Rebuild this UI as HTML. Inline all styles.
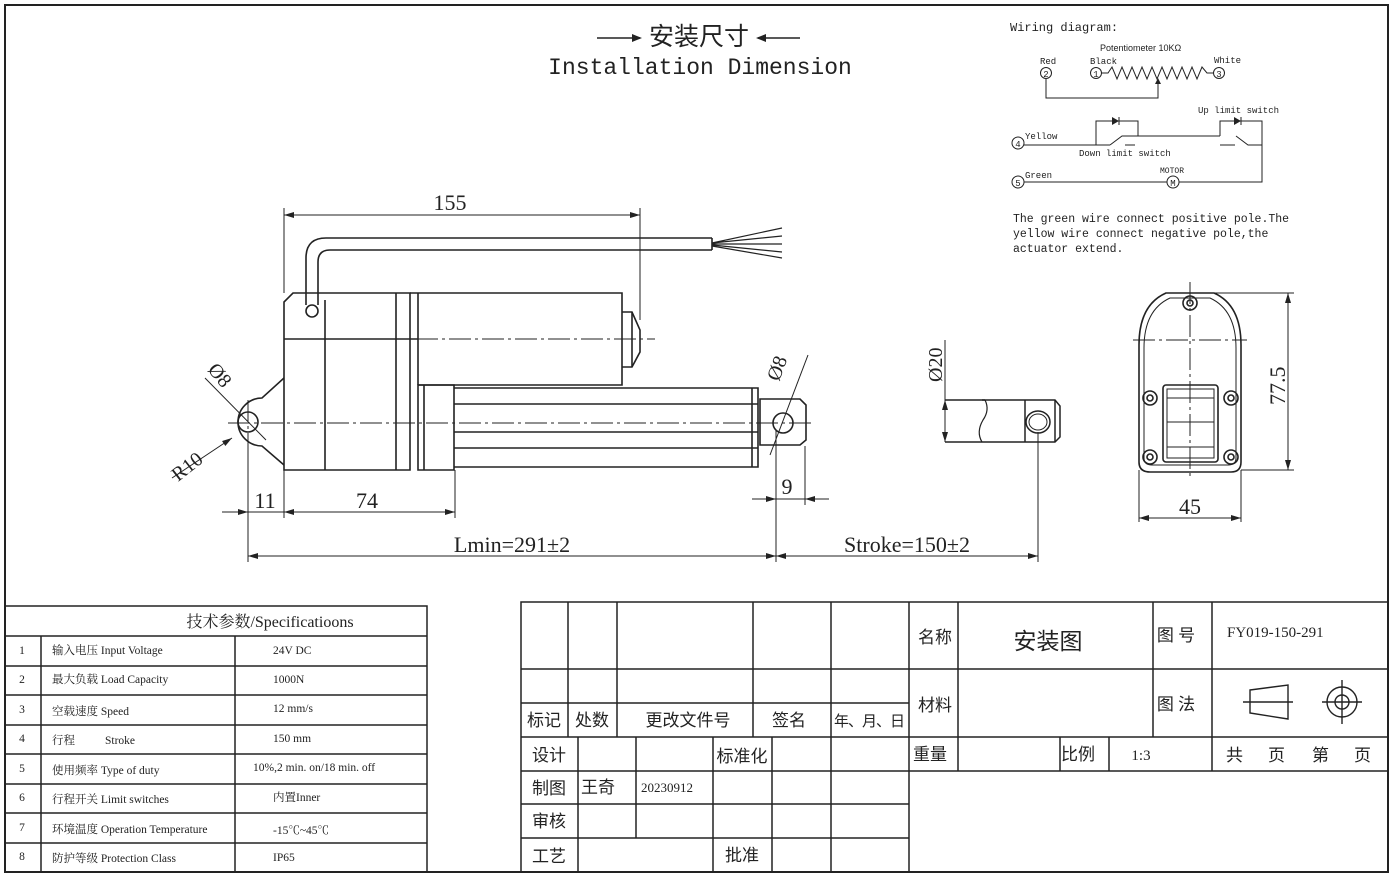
<!DOCTYPE html>
<html><head><meta charset="utf-8"><style>
html,body{margin:0;padding:0;background:#fff;}
svg{display:block}
.s{font-family:"Liberation Serif","Noto Serif CJK SC",serif;fill:#222}
.m{font-family:"Liberation Mono","Noto Sans CJK SC",monospace;fill:#222}
.c{font-family:"Liberation Serif","Noto Sans CJK SC",sans-serif;fill:#222}
</style></head><body>
<svg width="1392" height="877" viewBox="0 0 1392 877" xmlns="http://www.w3.org/2000/svg">
<defs>
<marker id="a" viewBox="0 0 10 6" refX="10" refY="3" markerWidth="12" markerHeight="6" orient="auto-start-reverse" markerUnits="userSpaceOnUse"><path d="M0,0L10,3L0,6z" fill="#222"/></marker>
</defs>
<rect x="5" y="5" width="1383" height="867" fill="none" stroke="#222" stroke-width="2"/>

<g stroke="#222" stroke-width="1.5"><line x1="597" y1="38" x2="640" y2="38"/><line x1="758" y1="38" x2="800" y2="38"/></g>
<path d="M632,34L642,38L632,42z M766,34L756,38L766,42z" fill="#222"/>
<text x="699" y="45" text-anchor="middle" class="c" font-size="25">安装尺寸</text>
<text x="700" y="74" text-anchor="middle" class="m" font-size="23">Installation Dimension</text>

<g fill="none" stroke="#222" stroke-width="1.6">
<path d="M306,305 L306,258 Q306,238 326,238 L712,238"/>
<path d="M318,305 L318,262 Q318,250 330,250 L712,250"/>
<line x1="712" y1="238" x2="712" y2="250"/>
<path d="M712,243 L782,228 M712,243 L782,236 M712,244 L782,244 M712,245 L782,252 M712,246 L782,258" stroke-width="1.2"/>
<circle cx="312" cy="311" r="6"/>
<path d="M293,293 L410,293 L410,470 L284,470 L284,302 Z"/>
<line x1="284" y1="339" x2="418" y2="339"/>
<line x1="325" y1="300" x2="325" y2="470"/>
<line x1="396" y1="293" x2="396" y2="470"/>
<line x1="418" y1="293" x2="418" y2="385"/>
<path d="M410,293 L622,293 L622,385 L418,385"/>
<path d="M622,312 L632,312 L640,330 L640,352 L632,367 L622,367"/>
<line x1="632" y1="312" x2="632" y2="367"/>
<path d="M284,378 L262,398 A22,22 0 1 0 262,446 L284,465"/>
<circle cx="248" cy="422" r="10"/>
<path d="M418,385 L454,385 L454,470 L418,470 Z"/>
<line x1="424" y1="385" x2="424" y2="470"/>
<path d="M454,388 L758,388 L758,467 L454,467"/>
<line x1="454" y1="404" x2="758" y2="404"/>
<line x1="454" y1="432" x2="758" y2="432"/>
<line x1="454" y1="448" x2="758" y2="448"/>
<line x1="752" y1="388" x2="752" y2="467"/>
<path d="M760,399 L800,399 L806,405 L806,440 L800,445 L760,445 Z"/>
<circle cx="783" cy="423" r="10"/>
</g>
<g stroke="#222" stroke-width="1" stroke-dasharray="22,4,3,4" fill="none">
<line x1="284" y1="339" x2="655" y2="339"/>
<line x1="228" y1="423" x2="812" y2="423"/>
<line x1="248" y1="400" x2="248" y2="446"/>
</g>
<g stroke="#222" stroke-width="1" fill="none">
<line x1="284" y1="208" x2="284" y2="293"/><line x1="640" y1="208" x2="640" y2="320"/>
<line x1="284" y1="215" x2="640" y2="215" marker-start="url(#a)" marker-end="url(#a)"/>
<line x1="248" y1="440" x2="248" y2="562"/><line x1="284" y1="470" x2="284" y2="518"/><line x1="455" y1="470" x2="455" y2="518"/>
<line x1="222" y1="512" x2="248" y2="512" marker-end="url(#a)"/>
<line x1="284" y1="512" x2="455" y2="512" marker-start="url(#a)" marker-end="url(#a)"/>
<line x1="248" y1="512" x2="284" y2="512"/>
<line x1="776" y1="430" x2="776" y2="562"/><line x1="805" y1="446" x2="805" y2="505"/>
<line x1="752" y1="499" x2="776" y2="499" marker-end="url(#a)"/>
<line x1="829" y1="499" x2="805" y2="499" marker-end="url(#a)"/>
<line x1="776" y1="499" x2="805" y2="499"/>
<line x1="248" y1="556" x2="776" y2="556" marker-start="url(#a)" marker-end="url(#a)"/>
<line x1="776" y1="556" x2="1038" y2="556" marker-start="url(#a)" marker-end="url(#a)"/>
<line x1="1038" y1="432" x2="1038" y2="562"/>
<line x1="205" y1="378" x2="266" y2="440"/>
<line x1="172" y1="478" x2="232" y2="438" marker-end="url(#a)"/>
<line x1="808" y1="355" x2="770" y2="455"/>
</g>
<g class="s" font-size="22">
<text x="450" y="210" text-anchor="middle">155</text>
<text x="265" y="508" text-anchor="middle">11</text>
<text x="367" y="508" text-anchor="middle">74</text>
<text x="787" y="494" text-anchor="middle">9</text>
<text x="512" y="552" text-anchor="middle">Lmin=291±2</text>
<text x="907" y="552" text-anchor="middle">Stroke=150±2</text>
<text transform="translate(207,370) rotate(50)" font-size="20">Ø8</text>
<text transform="translate(178,482) rotate(-38)" font-size="20">R10</text>
<text transform="translate(779,382) rotate(-70)" font-size="20">Ø8</text>
<text transform="translate(942,382) rotate(-90)" font-size="20">Ø20</text>
<text transform="translate(1285,405) rotate(-90)" font-size="22">77.5</text>
<text x="1190" y="514" text-anchor="middle">45</text>
</g>

<g fill="none" stroke="#222" stroke-width="1.5">
<path d="M982,400 L1055,400 L1060,406 L1060,437 L1055,442 L982,442"/>
<line x1="945" y1="400" x2="985" y2="400"/><line x1="945" y1="442" x2="982" y2="442"/>
<path d="M985,400 Q990,410 983,420 Q976,432 982,442" stroke-width="1.2"/>
<line x1="1025" y1="400" x2="1025" y2="442"/><line x1="1055" y1="400" x2="1055" y2="442"/>
<ellipse cx="1038" cy="422" rx="12" ry="11"/><ellipse cx="1038" cy="422" rx="9" ry="8" stroke-width="1"/>
</g>
<g stroke="#222" stroke-width="1" fill="none">
<line x1="945" y1="340" x2="945" y2="442"/>
<line x1="945" y1="400" x2="945" y2="442" marker-start="url(#a)" marker-end="url(#a)"/>
</g>

<g fill="none" stroke="#222" stroke-width="1.6">
<path d="M1166,293 L1214,293 Q1241,305 1241,345 L1241,462 Q1241,472 1231,472 L1150,472 Q1139,472 1139,462 L1139,345 Q1139,305 1166,293 Z"/>
<path d="M1170,298 L1210,298 Q1236,310 1236,348 L1236,458 Q1236,465 1228,465 L1152,465 Q1144,465 1144,458 L1144,348 Q1144,310 1170,298 Z" stroke-width="1"/>
<rect x="1163" y="385" width="55" height="77" rx="3"/>
<rect x="1167" y="389" width="47" height="69" stroke-width="1"/>
<line x1="1167" y1="398" x2="1214" y2="398" stroke-width="1"/><line x1="1167" y1="422" x2="1214" y2="422" stroke-width="1"/><line x1="1167" y1="447" x2="1214" y2="447" stroke-width="1"/>
<circle cx="1190" cy="303" r="7"/><circle cx="1190" cy="303" r="3"/>
<circle cx="1150" cy="398" r="7"/><circle cx="1150" cy="398" r="3"/>
<circle cx="1231" cy="398" r="7"/><circle cx="1231" cy="398" r="3"/>
<circle cx="1150" cy="457" r="7"/><circle cx="1150" cy="457" r="3"/>
<circle cx="1231" cy="457" r="7"/><circle cx="1231" cy="457" r="3"/>
</g>
<g stroke="#222" stroke-width="1" fill="none">
<line x1="1190" y1="282" x2="1190" y2="478" stroke-dasharray="22,4,3,4"/>
<line x1="1133" y1="340" x2="1247" y2="340" stroke-dasharray="22,4,3,4"/>
<line x1="1214" y1="293" x2="1294" y2="293"/><line x1="1241" y1="470" x2="1294" y2="470"/>
<line x1="1288" y1="293" x2="1288" y2="470" marker-start="url(#a)" marker-end="url(#a)"/>
<line x1="1139" y1="470" x2="1139" y2="522"/><line x1="1241" y1="470" x2="1241" y2="522"/>
<line x1="1139" y1="518" x2="1241" y2="518" marker-start="url(#a)" marker-end="url(#a)"/>
</g>

<g class="m">
<text x="1010" y="31" font-size="12">Wiring diagram:</text>
<text x="1100" y="51" font-size="9" font-family="Liberation Sans,sans-serif">Potentiometer 10KΩ</text>
<text x="1040" y="64" font-size="9">Red</text>
<text x="1090" y="64" font-size="9">Black</text>
<text x="1214" y="63" font-size="9">White</text>
<text x="1198" y="113" font-size="9">Up limit switch</text>
<text x="1025" y="139" font-size="9">Yellow</text>
<text x="1079" y="156" font-size="9">Down limit switch</text>
<text x="1025" y="178" font-size="9">Green</text>
<text x="1160" y="173" font-size="8">MOTOR</text>
<text x="1013" y="222" font-size="11.5">The green wire connect positive pole.The</text>
<text x="1013" y="237" font-size="11.5">yellow wire connect negative pole,the</text>
<text x="1013" y="252" font-size="11.5">actuator extend.</text>
<text x="1046" y="77" font-size="9" text-anchor="middle">2</text>
<text x="1096" y="77" font-size="9" text-anchor="middle">1</text>
<text x="1219" y="77" font-size="9" text-anchor="middle">3</text>
<text x="1018" y="147" font-size="9" text-anchor="middle">4</text>
<text x="1018" y="186" font-size="9" text-anchor="middle">5</text>
<text x="1173" y="186" font-size="9" text-anchor="middle">M</text>
</g>
<g fill="none" stroke="#222" stroke-width="1">
<circle cx="1046" cy="73" r="5.5"/><circle cx="1096" cy="73" r="5.5"/><circle cx="1219" cy="73" r="5.5"/>
<circle cx="1018" cy="143" r="6"/><circle cx="1018" cy="182" r="6"/><circle cx="1173" cy="182" r="6"/>
<path d="M1101,73 L1108,73 L1112,67 L1117,79 L1122,67 L1127,79 L1132,67 L1137,79 L1142,67 L1147,79 L1152,67 L1157,79 L1162,67 L1167,79 L1172,67 L1177,79 L1182,67 L1187,79 L1192,67 L1197,79 L1202,67 L1207,73 L1213,73"/>
<path d="M1046,79 L1046,98 L1158,98 L1158,82"/>
<path d="M1024,145 L1110,145 M1125,145 L1135,145"/>
<path d="M1096,145 L1096,121 L1138,121 L1138,136"/>
<path d="M1110,145 L1122,136 L1138,136 L1220,136"/>
<path d="M1220,136 L1220,121 L1262,121 L1262,145"/>
<path d="M1220,145 L1235,145 M1236,136 L1248,145 L1262,145 L1262,182 L1179,182"/>
<path d="M1024,182 L1167,182"/>
</g>
<path d="M1155,84 L1158,78 L1161,84z M1112,117 L1112,125 L1119,121z M1234,117 L1234,125 L1241,121z" fill="#222"/>
<g stroke="#222" stroke-width="1"><line x1="1119" y1="117" x2="1119" y2="125"/><line x1="1241" y1="117" x2="1241" y2="125"/></g>

<g fill="none" stroke="#222" stroke-width="1.5">
<rect x="5" y="606" width="422" height="266"/>
<line x1="5" y1="636" x2="427" y2="636"/><line x1="5" y1="666" x2="427" y2="666"/><line x1="5" y1="695" x2="427" y2="695"/><line x1="5" y1="725" x2="427" y2="725"/><line x1="5" y1="754" x2="427" y2="754"/><line x1="5" y1="784" x2="427" y2="784"/><line x1="5" y1="813" x2="427" y2="813"/><line x1="5" y1="843" x2="427" y2="843"/>
<line x1="41" y1="636" x2="41" y2="872"/><line x1="235" y1="636" x2="235" y2="872"/>
</g>
<g class="s" font-size="11.5">
<text x="270" y="627" text-anchor="middle" font-size="16">技术参数/Specificatioons</text>
<text x="22" y="654" text-anchor="middle">1</text><text x="22" y="683" text-anchor="middle">2</text><text x="22" y="713" text-anchor="middle">3</text><text x="22" y="742" text-anchor="middle">4</text><text x="22" y="772" text-anchor="middle">5</text><text x="22" y="801" text-anchor="middle">6</text><text x="22" y="831" text-anchor="middle">7</text><text x="22" y="860" text-anchor="middle">8</text>
<text x="52" y="654">输入电压 Input Voltage</text>
<text x="52" y="683">最大负载 Load Capacity</text>
<text x="52" y="715">空载速度 Speed</text>
<text x="52" y="744">行程 <tspan x="105">Stroke</tspan></text>
<text x="52" y="774">使用频率 Type of duty</text>
<text x="52" y="803">行程开关 Limit switches</text>
<text x="52" y="833">环境温度 Operation Temperature</text>
<text x="52" y="862">防护等级 Protection Class</text>
<text x="273" y="654">24V DC</text>
<text x="273" y="683">1000N</text>
<text x="273" y="712">12  mm/s</text>
<text x="273" y="742">150 mm</text>
<text x="253" y="771">10%,2 min. on/18 min. off</text>
<text x="273" y="801">内置Inner</text>
<text x="273" y="834">-15℃~45℃</text>
<text x="273" y="861">IP65</text>
</g>

<g fill="none" stroke="#222" stroke-width="1.5">
<rect x="521" y="602" width="867" height="270"/>
<line x1="521" y1="669" x2="909" y2="669"/><line x1="521" y1="703" x2="909" y2="703"/>
<line x1="521" y1="737" x2="1388" y2="737"/><line x1="521" y1="771" x2="1388" y2="771"/>
<line x1="521" y1="804" x2="909" y2="804"/><line x1="521" y1="838" x2="909" y2="838"/>
<line x1="909" y1="669" x2="1388" y2="669"/>
<line x1="568" y1="602" x2="568" y2="737"/><line x1="617" y1="602" x2="617" y2="737"/><line x1="753" y1="602" x2="753" y2="737"/><line x1="831" y1="602" x2="831" y2="872"/><line x1="909" y1="602" x2="909" y2="872"/>
<line x1="578" y1="737" x2="578" y2="872"/><line x1="636" y1="737" x2="636" y2="838"/><line x1="713" y1="737" x2="713" y2="872"/><line x1="772" y1="737" x2="772" y2="872"/>
<line x1="958" y1="602" x2="958" y2="771"/><line x1="1153" y1="602" x2="1153" y2="737"/><line x1="1212" y1="602" x2="1212" y2="771"/>
<line x1="1060" y1="737" x2="1060" y2="771"/><line x1="1109" y1="737" x2="1109" y2="771"/>
</g>
<g class="c" font-size="17">
<text x="544" y="726" text-anchor="middle">标记</text>
<text x="592" y="726" text-anchor="middle">处数</text>
<text x="688" y="726" text-anchor="middle">更改文件号</text>
<text x="789" y="726" text-anchor="middle">签名</text>
<text x="869" y="726" text-anchor="middle" font-size="15" letter-spacing="-1">年、月、日</text>
<text x="549" y="761" text-anchor="middle">设计</text>
<text x="742" y="762" text-anchor="middle">标准化</text>
<text x="549" y="794" text-anchor="middle">制图</text>
<text x="598" y="793" text-anchor="middle">王奇</text>
<text x="641" y="792" font-size="13">20230912</text>
<text x="549" y="827" text-anchor="middle">审核</text>
<text x="549" y="862" text-anchor="middle">工艺</text>
<text x="742" y="861" text-anchor="middle">批准</text>
<text x="935" y="643" text-anchor="middle">名称</text>
<text x="1048" y="649" text-anchor="middle" font-size="23">安装图</text>
<text x="1176" y="641" text-anchor="middle">图 号</text>
<text x="1227" y="637" font-size="15">FY019-150-291</text>
<text x="935" y="711" text-anchor="middle">材料</text>
<text x="1176" y="710" text-anchor="middle">图 法</text>
<text x="930" y="760" text-anchor="middle">重量</text>
<text x="1078" y="760" text-anchor="middle">比例</text>
<text x="1141" y="760" text-anchor="middle" font-size="15">1:3</text>
<text x="1226" y="761">共</text><text x="1268" y="761">页</text><text x="1312" y="761">第</text><text x="1354" y="761">页</text>
</g>
<g fill="none" stroke="#222" stroke-width="1.4">
<path d="M1250,690 L1288,685 L1288,719 L1250,713 Z"/>
<line x1="1243" y1="702" x2="1293" y2="702"/>
<circle cx="1342" cy="702" r="15"/><circle cx="1342" cy="702" r="7"/>
<line x1="1322" y1="702" x2="1362" y2="702"/><line x1="1342" y1="680" x2="1342" y2="724"/>
</g>
</svg>
</body></html>
